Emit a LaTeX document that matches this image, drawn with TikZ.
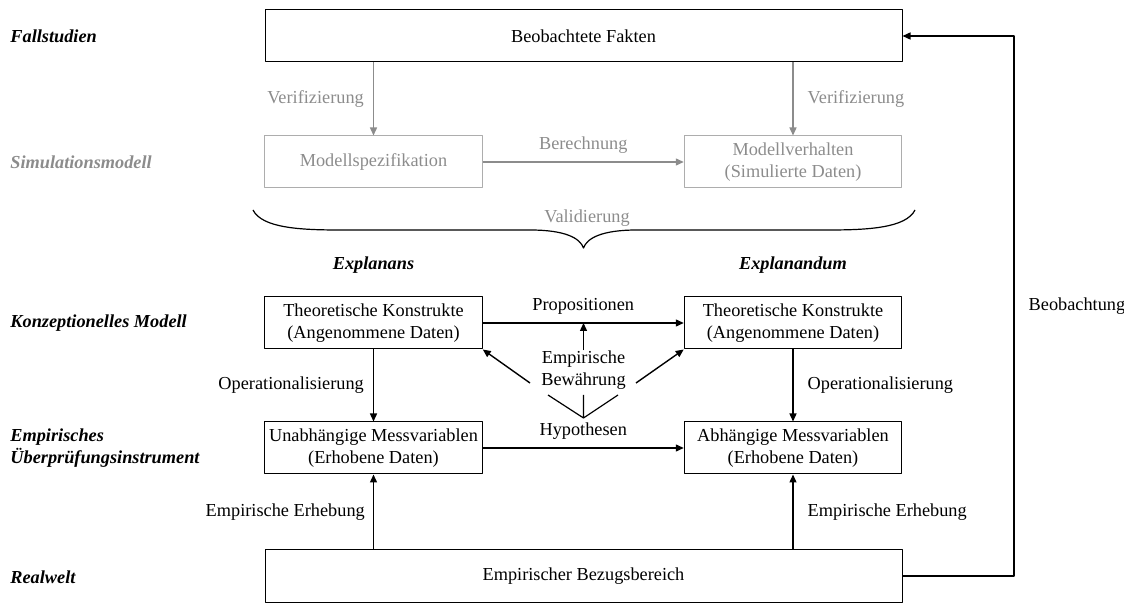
\documentclass[tikz,border=0pt]{standalone}
\usepackage{fontspec}
\setmainfont{Liberation Serif}
\usetikzlibrary{arrows.meta}
\begin{document}
\begin{tikzpicture}[x=0.5pt,y=-0.5pt,line join=round,font=\fontsize{9.15}{11}\selectfont]
        \definecolor{grau}{rgb}{0.55,0.55,0.55}
        \definecolor{graulinie}{rgb}{0.68,0.68,0.68}
        \tikzset{kasten/.style={draw,line width=0.5pt,minimum width=108.75pt,minimum height=26pt,align=center,inner sep=0pt},
                breitkasten/.style={kasten,minimum width=318.5pt},
                simkasten/.style={kasten,draw=graulinie,text=grau},
                ebene/.style={anchor=west,align=left,inner sep=0pt,font=\fontsize{9.15}{11}\selectfont\bfseries\itshape},
                pfeil/.style={-{Triangle[length=4pt,width=3.5pt]},line width=0.7pt},
                simpfeil/.style={pfeil,draw=grau},
                marke/.style={inner sep=0pt}}
        \useasboundingbox (0,0) rectangle (1124,603);
        \path
        (583.5,36) coordinate (P1)
        (373.5,162) coordinate (P2)
        (793,162) coordinate (P3)
        (373.5,323) coordinate (P4)
        (793,323) coordinate (P5)
        (373.5,448) coordinate (P6)
        (793,448) coordinate (P7)
        (583.5,576) coordinate (P8)
        (1014,0) coordinate (ecke)
        (530,383) coordinate (bewL)
        (636,383) coordinate (bewR)
        (548,395) coordinate (gabelL)
        (583.5,395) coordinate (gabelM)
        (618,395) coordinate (gabelR)
        (583.5,418) coordinate (gabel)
        ;
        % Ebenen
        \node[ebene] (fall) at (10,36) {Fallstudien};
        \node[ebene,text=grau] (sim) at (10,162) {Simulationsmodell};
        \node[ebene] (konz) at (10,323) {Konzeptionelles Modell};
        \node[ebene] (pruef) at (10,448) {Empirisches\\Überprüfungsinstrument};
        \node[ebene] (real) at (10,577) {Realwelt};
        \node[ebene,anchor=center] (explanans) at (373.5,265) {Explanans};
        \node[ebene,anchor=center] (explanandum) at (793,265) {Explanandum};
        % Kaesten
        \node[breitkasten] (fakten) at (P1) {Beobachtete Fakten};
        \node[simkasten] (spez) at (P2) {Modellspezifikation};
        \node[simkasten] (verhalten) at (P3) {Modellverhalten\\(Simulierte Daten)};
        \node[kasten] (konstruktL) at (P4) {Theoretische Konstrukte\\(Angenommene Daten)};
        \node[kasten] (konstruktR) at (P5) {Theoretische Konstrukte\\(Angenommene Daten)};
        \node[kasten] (messL) at (P6) {Unabhängige Messvariablen\\(Erhobene Daten)};
        \node[kasten] (messR) at (P7) {Abhängige Messvariablen\\(Erhobene Daten)};
        \node[breitkasten] (bezug) at (P8) {Empirischer Bezugsbereich};
        \node[marke,align=center] (bew) at (583.5,370) {Empirische\\Bewährung};
        % Simulation
        \draw[simpfeil] (fakten.south -| spez.north) -- (spez.north) node[midway,left=4.5pt,marke,text=grau,name=verL]{Verifizierung};
        \draw[simpfeil] (fakten.south -| verhalten.north) -- (verhalten.north) node[midway,right=7pt,marke,text=grau,name=verR]{Verifizierung};
        \draw[simpfeil] (spez.east) -- (verhalten.west) node[midway,above=4pt,marke,text=grau,name=ber]{Berechnung};
        \draw[line width=0.6pt] (253,210) .. controls (262,228) and (300,230) .. (340,230) -- (530,230)
                .. controls (565,230) and (580,238) .. (583.5,248)
                .. controls (587,238) and (602,230) .. (637,230) -- (828,230)
                .. controls (868,230) and (906,228) .. (915,210);
        \node[marke,text=grau] (valid) at (587,218) {Validierung};
        % Modell
        \draw[pfeil] (konstruktL.east) -- (konstruktR.west) node[midway,above=4pt,marke,name=prop]{Propositionen};
        \draw[pfeil] (messL.east) -- (messR.west) node[midway,above=4pt,marke,name=hyp]{Hypothesen};
        \draw[pfeil] (konstruktL) -- (messL) node[midway,left=4.5pt,marke,name=opL]{Operationalisierung};
        \draw[pfeil] (konstruktR) -- (messR) node[midway,right=7pt,marke,name=opR]{Operationalisierung};
        \draw[pfeil] (bezug.north -| messL.south) -- (messL.south) node[midway,left=4pt,marke,name=erhL]{Empirische Erhebung};
        \draw[pfeil] (bezug.north -| messR.south) -- (messR.south) node[midway,right=7pt,marke,name=erhR]{Empirische Erhebung};
        \draw[pfeil] (bew.north) -- (bew.north |- konstruktL.east);
        \draw[pfeil] (bewL) -- (konstruktL.south east);
        \draw[pfeil] (bewR) -- (konstruktR.south west);
        \draw[line width=0.6pt] (gabelL) -- (gabel) -- (gabelR) (gabelM) -- (gabel);
        \draw[pfeil] (bezug.east) -- (bezug.east -| ecke) |- (fakten.east) node[pos=0.25,right=7pt,marke,name=beob]{Beobachtung};
\end{tikzpicture}
\end{document}
